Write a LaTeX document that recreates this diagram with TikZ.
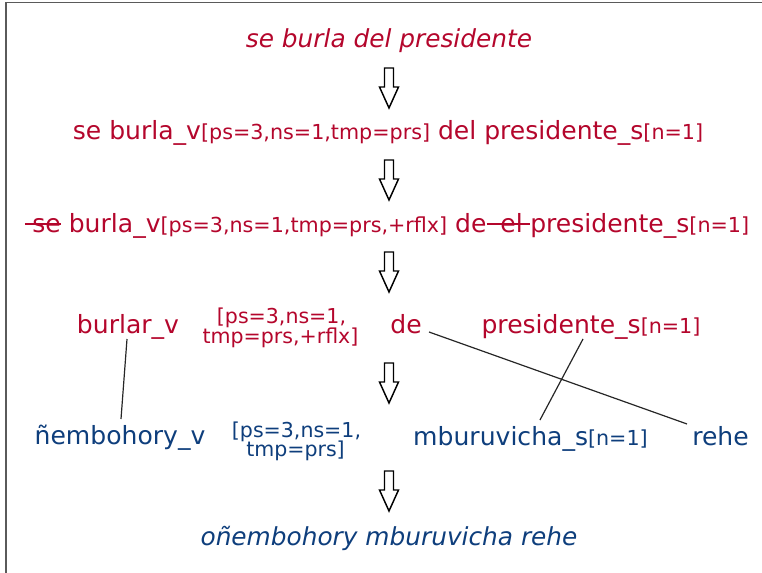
\documentclass[tikz,border=0pt]{standalone}
\usepackage{fontspec}
\setmainfont{DejaVu Sans}
\definecolor{tred}{RGB}{180,6,44}
\definecolor{tblue}{RGB}{14,62,124}
\definecolor{framegray}{RGB}{90,90,90}
\newlength\strklen
\newcommand\mystrike[1]{\settowidth\strklen{#1}\rlap{\rule[0.55ex]{\strklen}{0.08em}}#1}
\newcommand\smtxt[1]{{\fontsize{15.5}{15}\selectfont #1}}
\begin{document}
\begin{tikzpicture}[x=0.75pt,y=-0.75pt,
  txt/.style={inner sep=0pt, anchor=base, font=\fontsize{18.8}{22}\selectfont},
  smt/.style={inner sep=0pt, anchor=base, font=\fontsize{15.4}{15}\selectfont},
  redt/.style={text=tred},
  bluet/.style={text=tblue},
  link/.style={draw=black!85, line width=0.9pt},
  downarrow/.pic={\draw[line width=1.1pt, line join=miter, fill=white]
     (-4.5,0) -- (4.5,0) -- (4.5,19) -- (9.5,19) -- (0,40) -- (-9.5,19) -- (-4.5,19) -- cycle;}
]
\useasboundingbox (0,0) rectangle (762,573);
\draw[framegray, line width=1.2pt] (5.8,573) -- (5.8,2.4) -- (762,2.4);

% title
\node[txt, redt, font=\fontsize{18.6}{22}\selectfont\itshape] (t1) at (389,48) {se burla del presidente};
\pic at (389,68) {downarrow};

% line 2
\node[txt, redt] (l2) at (388,140) {se burla\_v\smtxt{[ps=3,ns=1,tmp=prs]} del presidente\_s\smtxt{[n=1]}};
\pic at (389,160) {downarrow};

% line 3
\node[txt, redt] (l3) at (387,233) {\mystrike{\kern0.3em se} burla\_v\smtxt{[ps=3,ns=1,tmp=prs,+rflx]} de\mystrike{\kern0.55em el\kern0.3em}presidente\_s\smtxt{[n=1]}};
\pic at (389,252) {downarrow};

% row 4
\node[txt, redt] (burlar) at (128,333) {burlar\_v};
\node[smt, redt] (fa1) at (281.5,323) {[ps=3,ns=1,};
\node[smt, redt] (fa2) at (280.5,343) {tmp=prs,+rflx]};
\node[txt, redt] (de) at (406,333) {de};
\node[txt, redt] (pres) at (591,333) {presidente\_s\smtxt{[n=1]}};
\pic at (389,363) {downarrow};

% row 5
\node[txt, bluet] (nemb) at (120,444) {ñembohory\_v};
\node[smt, bluet] (fb1) at (296.5,437) {[ps=3,ns=1,};
\node[smt, bluet] (fb2) at (295.5,456) {tmp=prs]};
\node[txt, bluet] (mbur) at (530.5,445) {mburuvicha\_s\smtxt{[n=1]}};
\node[txt, bluet] (rehe) at (720.5,445) {rehe};
\pic at (389,471) {downarrow};

% final
\node[txt, bluet, font=\fontsize{18.6}{22}\selectfont\itshape] (fin) at (389,545) {oñembohory mburuvicha rehe};

% links
\draw[link] ([xshift=-0.75pt,yshift=-4.5pt]burlar.base) -- ([xshift=0.75pt,yshift=18.75pt]nemb.base);
\draw[link] ([xshift=17.25pt,yshift=0.75pt]de.base) -- ([xshift=-25.1pt,yshift=15.75pt]rehe.base);
\draw[link] ([xshift=-6pt,yshift=-4.5pt]pres.base) -- ([xshift=7.1pt,yshift=18.75pt]mbur.base);
\end{tikzpicture}
\end{document}
